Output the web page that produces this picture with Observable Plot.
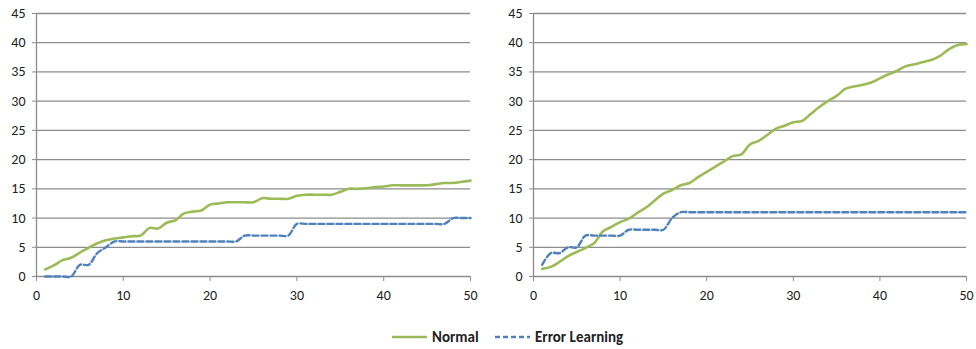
<!DOCTYPE html>
<html><head><meta charset="utf-8">
<script src="https://cdn.jsdelivr.net/npm/d3@7"></script>
<script src="https://cdn.jsdelivr.net/npm/@observablehq/plot@0.6"></script>
<style>
body{margin:0;background:#fff;font-family:Carlito,"Liberation Sans Narrow","DejaVu Sans Condensed",sans-serif;}
#charts{display:flex;width:976px;height:310px;}
#legend{position:relative;width:976px;height:39px;}
.item{position:absolute;top:15px;height:24px;display:flex;align-items:center;font-size:15px;font-weight:bold;color:#222;}
.item svg{margin-right:5px;}
</style></head><body>
<div id="charts"></div>
<div id="legend"></div>
<script>
const runs = [1,2,3,4,5,6,7,8,9,10,11,12,13,14,15,16,17,18,19,20,21,22,23,24,25,26,27,28,29,30,31,32,33,34,35,36,37,38,39,40,41,42,43,44,45,46,47,48,49,50];
const leftNormal = [1.2,1.9,2.8,3.2,4.1,4.9,5.7,6.2,6.5,6.7,6.9,7.0,8.3,8.2,9.2,9.6,10.8,11.1,11.3,12.3,12.5,12.7,12.7,12.7,12.7,13.4,13.3,13.3,13.3,13.8,14.0,14.0,14.0,14.0,14.5,15.0,15.0,15.1,15.3,15.4,15.6,15.6,15.6,15.6,15.6,15.8,16.0,16.0,16.2,16.4];
const leftError = [0,0,0,0,2,2,4,5,6,6,6,6,6,6,6,6,6,6,6,6,6,6,6,7,7,7,7,7,7,9,9,9,9,9,9,9,9,9,9,9,9,9,9,9,9,9,9,10,10,10];
const rightNormal = [1.3,1.65,2.5,3.5,4.2,4.9,5.7,7.7,8.5,9.3,9.9,10.9,11.8,13.0,14.2,14.8,15.6,16.0,17.0,17.9,18.8,19.7,20.6,20.9,22.6,23.2,24.2,25.3,25.8,26.4,26.6,27.8,29.0,30.0,30.9,32.1,32.5,32.8,33.2,33.9,34.6,35.2,36.0,36.3,36.7,37.1,37.8,38.9,39.6,39.8];
const rightError = [2,4,4,5,5,7,7,7,7,7,8,8,8,8,8,10,11,11,11,11,11,11,11,11,11,11,11,11,11,11,11,11,11,11,11,11,11,11,11,11,11,11,11,11,11,11,11,11,11,11];
const xTicks = [0,10,20,30,40,50];
const yTicks = [0,5,10,15,20,25,30,35,40,45];
const seriesNames = ["Normal","Error Learning"];

const green = "#9BBB59", blue = "#4F81BD", grid = "#8c8c8c";
const font = 'Carlito,"Liberation Sans Narrow","DejaVu Sans Condensed",sans-serif';

function panel(normal, error, ml, mr, width){
  const data = runs.map((x,i)=>({x, normal: normal[i], error: error[i]}));
  return Plot.plot({
    width, height:310, marginLeft:ml, marginRight:mr, marginTop:13, marginBottom:34,
    style:{fontFamily:font, fontSize:"14px", background:"#fff"},
    x:{domain:[0,50], label:null},
    y:{domain:[0,45], label:null},
    marks:[
      Plot.gridY(yTicks,{stroke:grid, strokeOpacity:1, strokeWidth:1.3}),
      Plot.ruleX([0],{stroke:grid, strokeWidth:1.3}),
      Plot.axisY(yTicks,{tickSize:4, tickPadding:7, stroke:grid, fill:"#222", label:null}),
      Plot.axisX(xTicks,{tickSize:5, tickPadding:9, stroke:grid, fill:"#222", label:null}),
      Plot.line(data,{x:"x", y:"normal", stroke:green, strokeWidth:2.6, curve:"catmull-rom"}),
      Plot.line(data,{x:"x", y:"error", stroke:blue, strokeWidth:2.4, strokeDasharray:"6,3", curve:"catmull-rom"})
    ]
  });
}
const charts = document.getElementById("charts");
charts.appendChild(panel(leftNormal, leftError, 36, 18, 488));
charts.appendChild(panel(rightNormal, rightError, 45, 10, 488));

const legend = document.getElementById("legend");
const items = [{name:seriesNames[0], color:green, dash:null, left:392},{name:seriesNames[1], color:blue, dash:"5,3", left:495}];
for (const it of items){
  const d = document.createElement("div");
  d.className = "item"; d.style.left = it.left + "px";
  d.innerHTML = `<svg width="35" height="6"><line x1="0" x2="35" y1="3" y2="3" stroke="${it.color}" stroke-width="2.6" ${it.dash?`stroke-dasharray="${it.dash}"`:""}/></svg><span>${it.name}</span>`;
  legend.appendChild(d);
}
</script>
</body></html>
